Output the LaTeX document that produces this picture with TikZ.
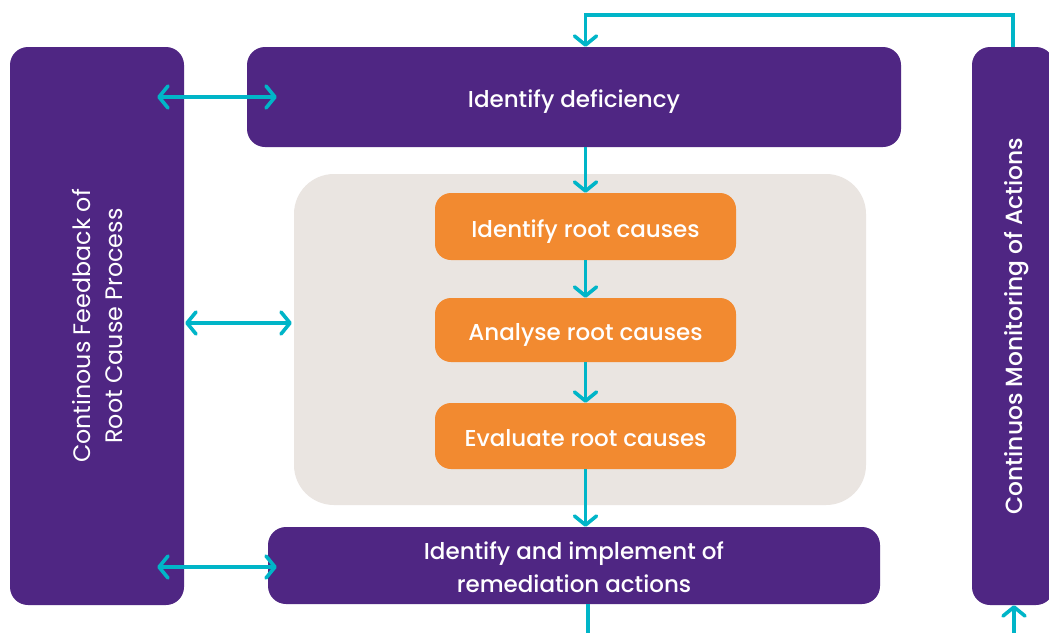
\documentclass[tikz,border=0pt]{standalone}
\usepackage{fontspec}
\setmainfont{Poppins}
\newfontfamily\medfont{Poppins Medium}
\usetikzlibrary{arrows.meta,calc}
\definecolor{purp}{HTML}{4F2683}
\definecolor{orng}{HTML}{F28A30}
\definecolor{tealc}{HTML}{00B5C8}
\definecolor{grayb}{HTML}{EAE5E1}
\tikzset{
  purplebox/.style={fill=purp, draw=none, rounded corners=18pt, text=white, align=center, inner sep=0pt},
  boxfont/.style={font=\medfont\fontsize{23}{33}\selectfont},
  onel/.style={text height=21pt, text depth=0pt},
  orangebox/.style={fill=orng, draw=none, rounded corners=16pt, text=white, align=center, inner sep=0pt,
    minimum width=301pt, boxfont, onel},
  graybox/.style={fill=grayb, draw=none, rounded corners=40pt, inner sep=0pt},
  arr/.style={draw=tealc, line width=3.6pt, -{Straight Barb[length=9pt,width=22pt,round]}},
  arrtwo/.style={draw=tealc, line width=3.6pt, {Straight Barb[length=9pt,width=22pt,round]}-{Straight Barb[length=9pt,width=22pt,round]}},
  line/.style={draw=tealc, line width=3.6pt},
}
\begin{document}
\begin{tikzpicture}[x=1pt,y=-1pt]
\useasboundingbox (0,0) rectangle (1049,632);
\fill[white] (0,0) rectangle (1049,632);
% containers
\node[graybox, minimum width=572pt, minimum height=331pt] (gray) at (580,339.5) {};
\node[purplebox, minimum width=174pt, minimum height=558pt] (left) at (97,326) {};
\node[text=white, align=center, rotate=90, font=\fontsize{23.8}{32}\selectfont] (lefttxt) at (98,326) {Continous Feedback of\\Root Cause Process};
\node[purplebox, minimum width=82pt, minimum height=558pt] (right) at (1013,326) {};
\node[text=white, rotate=90, font=\medfont\fontsize{23.4}{26}\selectfont] (righttxt) at (1017,326) {Continuos Monitoring of Actions};
\node[purplebox, minimum width=654pt, minimum height=100pt, boxfont, onel] (def) at (574,97) {Identify deficiency};
\node[orangebox, minimum height=67pt] (o1) at (585.5,226.5) {Identify root causes};
\node[orangebox, minimum height=64pt] (o2) at (585.5,330) {Analyse root causes};
\node[orangebox, minimum height=66pt] (o3) at (585.5,436) {Evaluate root causes};
\node[purplebox, minimum width=612pt, minimum height=77pt, boxfont] (bot) at (574,565.5) {\rule{0pt}{21pt}Identify and implement of\\remediation actions};
\coordinate (botend) at (588,640);
\coordinate (rightstart) at (1014,640);
% connectors
\draw[arr] (right.north) -- ++(0,-32) -| (o1.north |- def.north);
\draw[arr] (o1.north |- def.south) -- (o1.north);
\draw[arr] (o1.south) -- (o2.north);
\draw[arr] (o2.south) -- (o3.north);
\draw[arr] (o3.south) -- (o3.south |- bot.north);
\draw[line] (botend |- bot.south) -- (botend);
\draw[arr] (rightstart) -- (rightstart |- right.south);
\draw[arrtwo] ([xshift=-27pt]left.east |- def.west) -- ([xshift=30pt]def.west);
\draw[arrtwo] ([xshift=1pt,yshift=16.5pt]left.east |- gray.west) -- ([xshift=-2pt,yshift=16.5pt]gray.west);
\draw[arrtwo] ([xshift=-27pt,yshift=-1.5pt]left.east |- bot.west) -- ([xshift=9pt,yshift=-1.5pt]bot.west);
\end{tikzpicture}
\end{document}
